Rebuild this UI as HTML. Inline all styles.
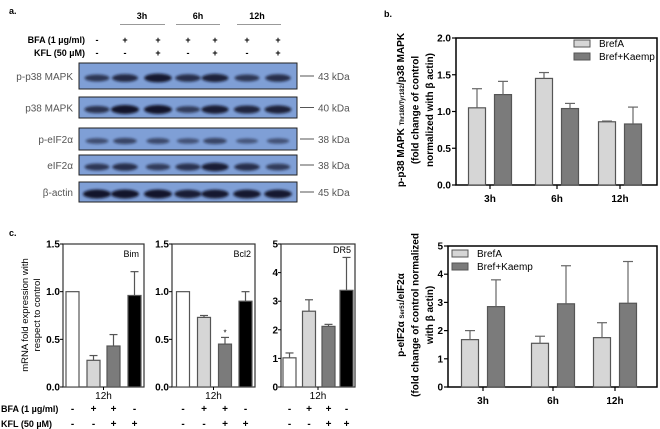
<!DOCTYPE html>
<html><head><meta charset="utf-8"><style>
body{margin:0;background:#fff}
svg{display:block;font-family:"Liberation Sans",sans-serif}
.b{font-weight:bold}
.lbl{fill:#555;font-size:10px}
</style></head><body>
<svg id="fig" width="660" height="429" viewBox="0 0 660 429">
<defs><filter id="bl" x="-30%" y="-80%" width="160%" height="260%"><feGaussianBlur stdDeviation="1.4"/></filter></defs>
<g id="blot"></g>
<g id="pb"></g>
<g id="pc"></g>
<g id="pd"></g>
</svg>
<script>
// ---- data ----
const groups=["3h","6h","12h"];
const p38Bref=[1.05,1.45,0.86];
const p38BrefErr=[0.26,0.08,0.01];
const p38Kaemp=[1.23,1.04,0.83];
const p38KaempErr=[0.18,0.07,0.23];
const eifBref=[1.68,1.55,1.75];
const eifBrefErr=[0.32,0.25,0.53];
const eifKaemp=[2.85,2.95,2.97];
const eifKaempErr=[0.95,1.35,1.48];
const genes=["Bim","Bcl2","DR5"];
const bimVals=[1.0,0.28,0.43,0.96];
const bimErr=[0,0.05,0.12,0.25];
const bcl2Vals=[1.0,0.73,0.45,0.9];
const bcl2Err=[0,0.02,0.07,0.1];
const dr5Vals=[1.02,2.65,2.12,3.38];
const dr5Err=[0.17,0.4,0.07,1.15];
const ticksB=["0.0","0.5","1.0","1.5","2.0"];
const ticksD=["0","1","2","3","4","5"];
const ticksC15=["0.0","0.5","1.0","1.5"];
const ticksC5=["0","1","2","3","4","5"];
const blotRows=["p-p38 MAPK","p38 MAPK","p-eIF2α","eIF2α","β-actin"];
const blotKda=["43 kDa","40 kDa","38 kDa","38 kDa","45 kDa"];
const bfaRow=["-","+","+","+","+","+","+"];
const kflRow=["-","-","+","-","+","-","+"];
const bandInt=[[0.6,0.75,0.95,0.7,0.85,0.6,0.7],[0.65,1,1,0.55,0.9,0.8,0.85],[0.35,0.45,0.4,0.3,0.45,0.25,0.3],[0.6,0.7,0.55,0.65,0.9,0.7,0.55],[1,1,1,0.9,0.95,0.95,0.95]];
// ---- helpers ----
const NS="http://www.w3.org/2000/svg";
function mk(p,t,a,txt){const e=document.createElementNS(NS,t);for(const k in a)e.setAttribute(k,a[k]);if(txt!==undefined)e.textContent=txt;p.appendChild(e);return e;}
// ---- blot ----
const blot=document.getElementById('blot');
let t=mk(blot,'text',{x:9,y:14,'font-size':9,class:'b'},'a.');


const lanes=[97,125,158,188,215,247,278];
[["3h",142,120,165],["6h",198,176,220],["12h",257,237,281]].forEach(h=>{
 let e=mk(blot,'text',{x:h[1],y:19,'font-size':9,class:'b','text-anchor':'middle'},h[0]);
 
 
 mk(blot,'line',{x1:h[2],x2:h[3],y1:24.5,y2:24.5,stroke:'#999','stroke-width':1});
});
t=mk(blot,'text',{x:85,y:43,'font-size':9,class:'b','text-anchor':'end'},'BFA (1 µg/ml)');


t=mk(blot,'text',{x:85,y:56,'font-size':9,class:'b','text-anchor':'end'},'KFL (50 µM)');


lanes.forEach((x,i)=>{mk(blot,'text',{x:x,y:43,'font-size':9,class:'b','text-anchor':'middle'},bfaRow[i]);mk(blot,'text',{x:x,y:56,'font-size':9,class:'b','text-anchor':'middle'},kflRow[i]);});
const rowsY=[[63,89],[97,118],[128,150],[155,175],[182,202]];
rowsY.forEach((r,ri)=>{
 let g=mk(blot,'g',{});
 
 
 mk(g,'rect',{x:79,y:r[0],width:218,height:r[1]-r[0],fill:'#7f9fd6',stroke:'#222','stroke-width':1});
 const cy=(r[0]+r[1])/2+2;
 lanes.forEach((x,i)=>{const v=bandInt[ri][i];mk(g,'ellipse',{cx:x,cy:cy,rx:10+4*v,ry:2+2.5*v,fill:'#0d1020',opacity:0.35+0.6*v,filter:'url(#bl)'});});
 mk(g,'text',{x:73,y:(r[0]+r[1])/2+4,'font-size':10,class:'lbl','text-anchor':'end'},blotRows[ri]);
 mk(g,'line',{x1:300,x2:314,y1:(r[0]+r[1])/2,y2:(r[0]+r[1])/2,stroke:'#555'});
 mk(g,'text',{x:318,y:(r[0]+r[1])/2+4,'font-size':10,class:'lbl'},blotKda[ri]);
});
// ---- grouped chart ----
function grouped(root,x0,x1,y0,y1,ymax,ticks,centers,s1,e1,s2,e2,labLines,legY,legX,labX,labY,small){
 const ys=v=>y1-(v/ymax)*(y1-y0);
 mk(root,'rect',{x:x0,y:y0,width:x1-x0,height:y1-y0,fill:'none',stroke:'#000','stroke-width':1.5});
 ticks.forEach(tk=>{const y=ys(+tk);mk(root,'line',{x1:x0-4,x2:x0,y1:y,y2:y,stroke:'#000','stroke-width':1.2});
  let e=mk(root,'text',{x:x0-5,y:y+3.5,'font-size':10,class:'b','text-anchor':'end'},tk);
  
  });
 groups.forEach((gname,i)=>{const c=centers[i];
  mk(root,'line',{x1:c,x2:c,y1:y1,y2:y1+4,stroke:'#000','stroke-width':1.2});
  let e=mk(root,'text',{x:c,y:y1+17,'font-size':10,class:'b','text-anchor':'middle'},gname);
  
  
  [[s1,e1,'#d6d6d6',-13],[s2,e2,'#7b7b7b',13]].forEach(([s,er,col,off])=>{
   const v=s[i],cx=c+off,w=17;
   let b=mk(root,'rect',{x:cx-w/2,y:ys(v),width:w,height:y1-ys(v),fill:col,stroke:'#555','stroke-width':1.2});
   
   
   mk(root,'line',{x1:cx,x2:cx,y1:ys(v),y2:ys(v+er[i]),stroke:'#666','stroke-width':1.2});
   mk(root,'line',{x1:cx-5,x2:cx+5,y1:ys(v+er[i]),y2:ys(v+er[i]),stroke:'#666','stroke-width':1.2});
  });});
 [["BrefA",'#d6d6d6',legY],["Bref+Kaemp",'#7b7b7b',legY+13]].forEach(l=>{
  let g=mk(root,'g',{});
  
  
  mk(g,'rect',{x:legX,y:l[2]-4,width:16,height:7,fill:l[1],stroke:'#555'});
  mk(g,'text',{x:legX+25,y:l[2]+3,'font-size':10},l[0]);});
 let tg=mk(root,'text',{transform:`translate(${labX},${labY}) rotate(-90)`,'font-size':small?10:10,class:'b','text-anchor':'middle'});
 
 
 labLines.forEach((ln,i)=>{const ts=mk(tg,'tspan',{x:0,dy:i?14.5:0});ts.innerHTML=ln;});
}
const pb=document.getElementById('pb');
t=mk(pb,'text',{x:384,y:17,'font-size':9,class:'b'},'b.');


grouped(pb,456,657,38,185,2,ticksB,[490,557,620],p38Bref,p38BrefErr,p38Kaemp,p38KaempErr,
 ['p-p38 MAPK <tspan font-size="6">Thr180/Tyr182</tspan>/p38 MAPK','(fold change of control','normalized with β actin)'],44,574,404,110);
const pd=document.getElementById('pd');
grouped(pd,448,657,246,387,5,ticksD,[483,553,615],eifBref,eifBrefErr,eifKaemp,eifKaempErr,
 ['p-eIF2α <tspan font-size="6">Ser51</tspan>/eIF2α','(fold change of control normalized','with β actin)'],254,452,404,315);
// ---- panel c ----
const pc=document.getElementById('pc');
t=mk(pc,'text',{x:9,y:236,'font-size':9,class:'b'},'c.');


const cols=['#ffffff','#d6d6d6','#7b7b7b','#000000'];
function sub(x0,x1,ymax,ticks,vals,errs,name,nameX,nameY,xs,star){
 const y0=244,y1=387,ys=v=>y1-(v/ymax)*(y1-y0);
 let g=mk(pc,'g',{});
 
 
 mk(g,'rect',{x:x0,y:y0,width:x1-x0,height:y1-y0,fill:'none',stroke:'#333','stroke-width':1.2});
 ticks.forEach(tk=>{const y=ys(+tk);mk(g,'line',{x1:x0-3,x2:x0,y1:y,y2:y,stroke:'#000'});mk(g,'text',{x:x0-3,y:y+3.5,'font-size':10,class:'b','text-anchor':'end'},tk);});
 vals.forEach((v,i)=>{const cx=xs[i],w=13;
  let b=mk(g,'rect',{x:cx-w/2,y:ys(v),width:w,height:y1-ys(v),fill:cols[i],stroke:'#555','stroke-width':1.2});
  
  
  if(errs[i]>0){mk(g,'line',{x1:cx,x2:cx,y1:ys(v),y2:ys(v+errs[i]),stroke:'#555','stroke-width':1.2});
  mk(g,'line',{x1:cx-4,x2:cx+4,y1:ys(v+errs[i]),y2:ys(v+errs[i]),stroke:'#555','stroke-width':1.2});}
  mk(g,'text',{x:cx,y:412,'font-size':10,class:'b','text-anchor':'middle'},bfaRow[[0,1,2,0][i]]);
  mk(g,'text',{x:cx,y:427,'font-size':10,class:'b','text-anchor':'middle'},["-","-","+","+"][i]);
 });
 if(star)mk(g,'text',{x:xs[2],y:ys(vals[2]+errs[2])-2,'font-size':8,'text-anchor':'middle'},'*');
 const mid=(x0+x1)/2;
 mk(g,'line',{x1:mid,x2:mid,y1:y1,y2:y1+3,stroke:'#000'});
 mk(g,'text',{x:mid,y:399,'font-size':10,'text-anchor':'middle'},'12h');
 mk(g,'text',{x:nameX,y:nameY,'font-size':9,'text-anchor':'end'},name);
}
sub(63,144,1.5,ticksC15,bimVals,bimErr,genes[0],139,257,[72.5,93.5,113.5,134.5],false);
sub(172,255,1.5,ticksC15,bcl2Vals,bcl2Err,genes[1],251,257,[183,204,225,245.5],true);
sub(281,355,5,ticksC5,dr5Vals,dr5Err,genes[2],351,253,[289.5,309,328.5,346.5],false);
t=mk(pc,'text',{x:1,y:412,'font-size':9,class:'b'},'BFA (1 µg/ml)');


t=mk(pc,'text',{x:1,y:427,'font-size':9,class:'b'},'KFL (50 µM)');


let yl=mk(pc,'text',{transform:'translate(28,315) rotate(-90)','font-size':9.5,'text-anchor':'middle'});


mk(yl,'tspan',{x:0,dy:0},'mRNA fold expression with');
mk(yl,'tspan',{x:0,dy:12},'respect to control');
</script>
</body></html>
